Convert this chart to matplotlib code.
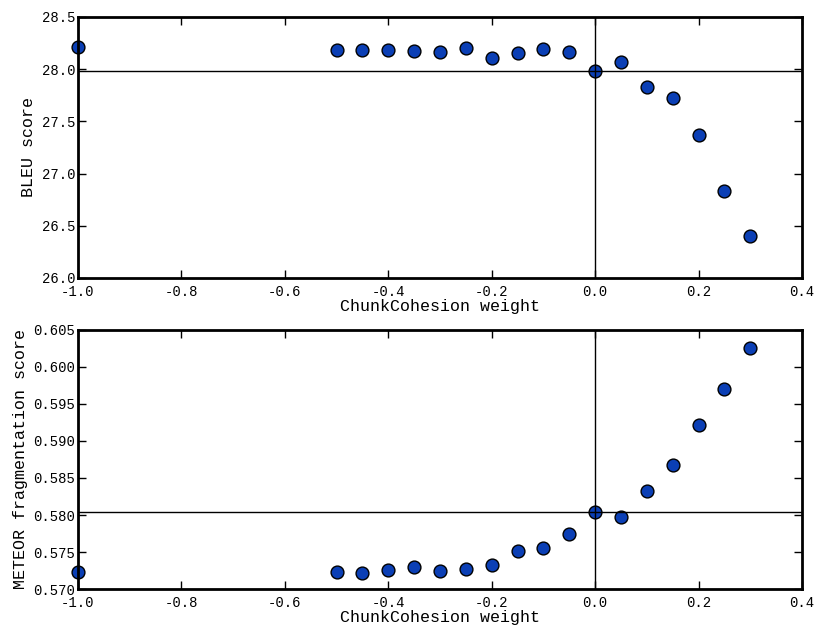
import matplotlib
matplotlib.use('Agg')
import matplotlib.pyplot as plt

# ChunkCohesion weights
weights = [-1.0, -0.5, -0.45, -0.4, -0.35, -0.3, -0.25, -0.2, -0.15, -0.1, -0.05,
           0.0, 0.05, 0.1, 0.15, 0.2, 0.25, 0.3]

# BLEU score per weight
bleu = [28.21, 28.18, 28.18, 28.18, 28.17, 28.16, 28.20, 28.11, 28.15, 28.19, 28.16,
        27.98, 28.07, 27.83, 27.72, 27.37, 26.83, 26.40]

# METEOR fragmentation score per weight
meteor = [0.5723, 0.5723, 0.5722, 0.5726, 0.5730, 0.5725, 0.5727, 0.5733, 0.5752,
          0.5756, 0.5774, 0.5804, 0.5797, 0.5832, 0.5867, 0.5921, 0.5970, 0.6026]

bleu_ticks = [26.0, 26.5, 27.0, 27.5, 28.0, 28.5]
meteor_ticks = [0.570, 0.575, 0.580, 0.585, 0.590, 0.595, 0.600, 0.605]
x_ticks = [-1.0, -0.8, -0.6, -0.4, -0.2, 0.0, 0.2, 0.4]

plt.rcParams['font.family'] = ['Liberation Mono', 'DejaVu Sans Mono']

fig = plt.figure(figsize=(8.15, 6.26), dpi=100)
ax1 = fig.add_axes([0.0957, 0.556, 0.8883, 0.417])
ax2 = fig.add_axes([0.0957, 0.059, 0.8883, 0.414])


def draw_panel(ax, y, yticks, ylabel, yfmt):
    ax.scatter(weights, y, s=85, color='#0b3fb5', edgecolor='black',
               linewidth=1.0, zorder=2, clip_on=False)
    # baseline cross at weight 0
    ax.axhline(y[weights.index(0.0)], color='black', linewidth=1.0, zorder=3)
    ax.axvline(0.0, color='black', linewidth=1.0, zorder=3)
    ax.set_xlim(-1.0, 0.4)
    ax.set_ylim(yticks[0], yticks[-1])
    ax.set_xticks(x_ticks)
    ax.set_xticklabels([f'{t:.1f}' for t in x_ticks])
    ax.set_yticks(yticks)
    ax.set_yticklabels([yfmt.format(t) for t in yticks])
    ax.tick_params(direction='in', top=True, right=True, length=6, width=1.0,
                   labelsize=10)
    ax.tick_params(axis='x', pad=5)
    ax.tick_params(axis='y', pad=2)
    for sp in ax.spines.values():
        sp.set_linewidth(2.0)
    ax.set_xlabel('ChunkCohesion weight', fontsize=12, labelpad=0)
    ax.set_ylabel(ylabel, fontsize=12)


draw_panel(ax1, bleu, bleu_ticks, 'BLEU score', '{:.1f}')
draw_panel(ax2, meteor, meteor_ticks, 'METEOR fragmentation score', '{:.3f}')

fig.savefig('out.png', dpi=100)
